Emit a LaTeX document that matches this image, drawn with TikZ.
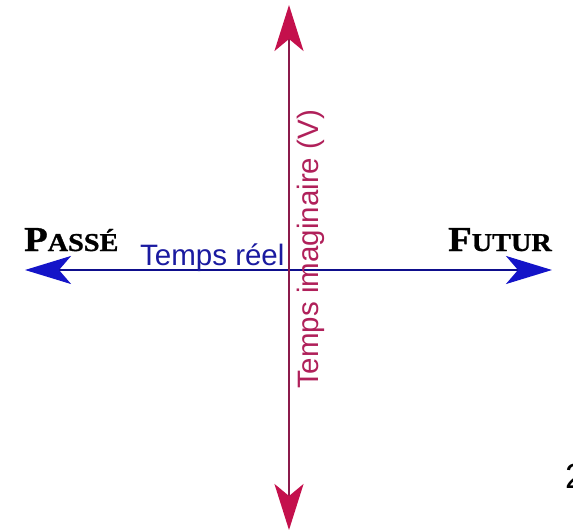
\documentclass[tikz,border=0pt]{standalone}
\usepackage{fontspec}
\usepackage{graphicx}
\setsansfont{Liberation Sans}
\newfontfamily\capsfont{Liberation Serif Bold}[FakeBold=1]
\usepackage{tikz}
\usetikzlibrary{arrows.meta, positioning}

\definecolor{reelline}{RGB}{14,14,140}
\definecolor{reelhead}{RGB}{20,20,200}
\definecolor{reeltext}{RGB}{26,26,160}
\definecolor{imagline}{RGB}{139,26,75}
\definecolor{imaghead}{RGB}{196,16,76}
\definecolor{imagtext}{RGB}{176,32,90}

\begin{document}
\begin{tikzpicture}[
      x=1pt, y=-1pt,
      reelaxis/.style={draw=reelline, line width=2.5pt,
        -{Stealth[length=46pt, width=28pt, inset=12pt, color=reelhead, fill=reelhead]}},
      imagaxis/.style={draw=imagline, line width=2.5pt,
        -{Stealth[length=46pt, width=29pt, inset=12pt, color=imaghead, fill=imaghead]}},
      timelabel/.style={inner sep=0pt, font=\capsfont\fontsize{35}{35}\selectfont},
      axislabel/.style={inner sep=0pt, font=\sffamily\fontsize{29.5}{29.5}\selectfont}
    ]
    \useasboundingbox (0,0) rectangle (573,532);

    % the two axes
    \coordinate (origin) at (289,270);
    \coordinate (past) at (25,270);
    \coordinate (future) at (552,270);
    \coordinate (up) at (289,5);
    \coordinate (down) at (289,530);
    \draw[reelaxis] (origin) -- (past);
    \draw[reelaxis] (origin) -- (future);
    \draw[imagaxis] (origin) -- (up);
    \draw[imagaxis] (origin) -- (down);

    % labels
    \node[timelabel, anchor=base west] (passe) at (24,251)
      {\scalebox{1.1}[1]{P{\fontsize{25.7}{25.7}\selectfont ASSÉ}}};
    \node[timelabel, anchor=base east] (futur) at (552,251)
      {\scalebox{1.1}[1]{F{\fontsize{25.7}{25.7}\selectfont UTUR}}};
    \node[axislabel, text=reeltext, anchor=base west] (reel) at (140,265) {Temps réel};
    \node[axislabel, text=imagtext, rotate=90, anchor=base west] (imag) at (318,389) {Temps imaginaire (V)};

    \node[inner sep=0pt, anchor=base west, font=\sffamily\fontsize{35}{35}\selectfont] (page) at (565,488) {2};
  \end{tikzpicture}
\end{document}
